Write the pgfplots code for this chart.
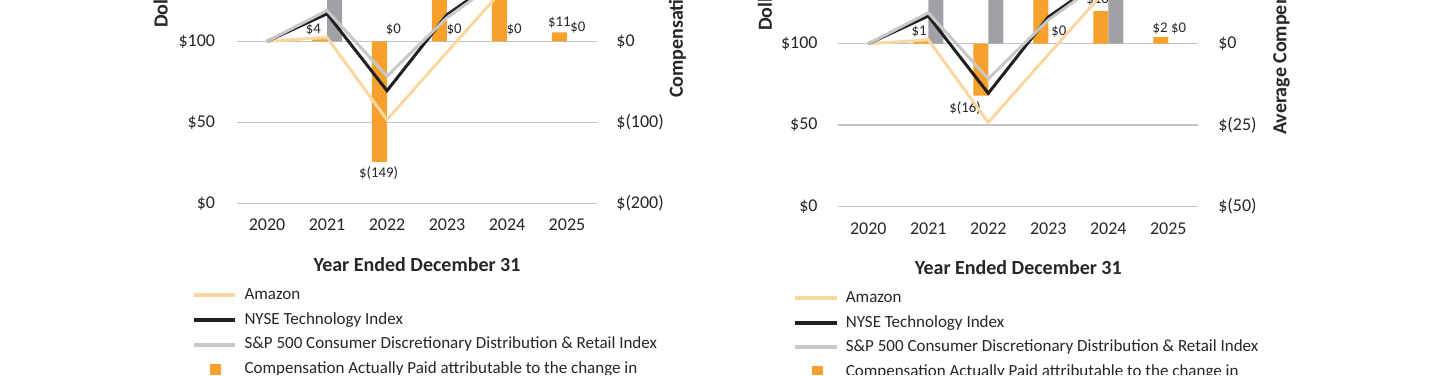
\documentclass[border=0pt]{standalone}
\usepackage{pgfplots}
\pgfplotsset{compat=1.18}
\usepackage{fontspec}
\setmainfont{Carlito}
\definecolor{barorange}{HTML}{F6A12B}
\definecolor{bargray}{HTML}{A0A1A4}
\definecolor{amzline}{HTML}{FAD7A1}
\definecolor{nyseline}{HTML}{231F20}
\definecolor{spline}{HTML}{C8C8C8}
\definecolor{gridc}{HTML}{C4C4C4}
\definecolor{txt}{HTML}{262626}
\tikzset{
  ticklab/.style={font=\fontsize{9}{10}\selectfont, text=txt, inner sep=0pt},
  dlab/.style={font=\fontsize{7.4}{8}\selectfont, text=txt, inner sep=0pt},
  ttl/.style={font=\bfseries\fontsize{10}{12}\selectfont, text=txt, inner sep=0pt},
}
\pgfplotsset{
  panel/.style={scale only axis, width=180pt, xmin=-0.5, xmax=5.5, enlargelimits=false,
    axis line style={draw=none}, tick style={draw=none}, major tick length=0pt},
  lineplot/.style={line width=1.5pt, line join=miter},
  leg/.style={legend style={draw=none, fill=none, inner sep=0pt, outer sep=0pt,
      row sep=4.3pt, column sep=3.6pt, font=\fontsize{8.5}{10}\selectfont, text=txt,
      nodes={inner sep=0pt, text height=6.2pt, text depth=1.8pt}},
    legend cell align=left,
    legend image code/.code={\draw[##1, line width=2pt] (0pt,0pt) -- (20.8pt,0pt);}},
  sqimg/.style={legend image code/.code={\fill[barorange, draw=none] (8.25pt,-2.75pt) rectangle (13.75pt,2.75pt); \path[draw=none, fill=none] (0pt,0pt) -- (20.8pt,0pt);}},
}
\begin{document}
\begin{tikzpicture}
\useasboundingbox (0,0) rectangle (720pt,187.5pt);
\clip (0,0) rectangle (720pt,187.5pt);
% ================= LEFT PANEL =================
\begin{axis}[panel, clip=false, at={(118.5pt,85.85pt)}, anchor=south west, height=162pt, ymin=0, ymax=200,
  ytick={0,50,100,150,200}, yticklabels={\$0,\$50,\$100,\$150,\$200},
  ymajorgrids, grid style={line width=0.6pt, draw=gridc},
  xtick={0,1,2,3,4,5}, xticklabels={2020,2021,2022,2023,2024,2025},
  yticklabel style={ticklab, anchor=east, xshift=-10.8pt},
  xticklabel style={ticklab, anchor=center, yshift=-10.85pt},
  xlabel={Year Ended December 31},
  xlabel style={at={(axis description cs:0.5,-0.1904)}, anchor=center, ttl}]
\addplot[draw=none] coordinates {(0,0)};
\node[ttl, rotate=90, anchor=west] at (rel axis cs:-0.212,0.540) {Dollars};
\end{axis}
\begin{axis}[panel, clip=false, at={(118.5pt,85.85pt)}, anchor=south west, height=162pt, ymin=-200, ymax=200,
  ytick={-200,-100,0}, yticklabels={\$(200),\$(100),\$0}, yticklabel pos=right,
  yticklabel style={ticklab, anchor=west, xshift=9.5pt}, xtick=\empty]
\addplot[ybar, bar width=7.5pt, bar shift=-3.75pt, fill=barorange, draw=none]
  coordinates {(1,4) (2,-149) (3,120) (4,90) (5,11)};
\addplot[ybar, bar width=7.5pt, bar shift=3.75pt, fill=bargray, draw=none]
  coordinates {(1,150) (2,0) (3,0) (4,0) (5,0)};
\node[dlab] at (axis cs:0.772,14) {\$4};
\node[dlab] at (axis cs:1.862,-162.6) {\$(149)};
\node[dlab] at (axis cs:2.105,14.8) {\$0};
\node[dlab] at (axis cs:3.117,14) {\$0};
\node[dlab] at (axis cs:4.117,14) {\$0};
\node[dlab] at (axis cs:4.872,22.6) {\$11};
\node[dlab] at (axis cs:5.183,16.4) {\$0};
\node[ttl, rotate=90, anchor=west] at (rel axis cs:1.2236,0.3241) {Compensation Actually Paid};
\end{axis}
\begin{axis}[panel, at={(118.5pt,85.85pt)}, anchor=south west, height=162pt, ymin=0, ymax=200,
  hide axis, leg, legend style={at={(-0.1258,-0.2593)}, anchor=north west}]
\addplot[lineplot, amzline] coordinates {(0,100) (1,102.4) (2,51.6) (3,93.3) (4,134.7) (5,142)};
\addlegendentry{Amazon}
\addplot[lineplot, nyseline] coordinates {(0,100) (1,117) (2,69.5) (3,116.4) (4,142) (5,155)};
\addlegendentry{NYSE Technology Index}
\addplot[lineplot, spline] coordinates {(0,100) (1,119) (2,78.5) (3,114.6) (4,141) (5,150)};
\addlegendentry{S\&P 500 Consumer Discretionary Distribution \& Retail Index}
\addlegendimage{sqimg}
\addlegendentry{Compensation Actually Paid attributable to the change in}
\end{axis}
% ================= RIGHT PANEL =================
\begin{axis}[panel, clip=false, at={(419.15pt,84.35pt)}, anchor=south west, height=162.6pt, ymin=0, ymax=200,
  ytick={0,50,100,150,200}, yticklabels={\$0,\$50,\$100,\$150,\$200},
  ymajorgrids, grid style={line width=0.6pt, draw=gridc},
  xtick={0,1,2,3,4,5}, xticklabels={2020,2021,2022,2023,2024,2025},
  yticklabel style={ticklab, anchor=east, xshift=-10.2pt},
  xticklabel style={ticklab, anchor=center, yshift=-11pt},
  xlabel={Year Ended December 31},
  xlabel style={at={(axis description cs:0.5,-0.1897)}, anchor=center, ttl}]
\addplot[draw=none] coordinates {(0,0)};
\node[ttl, rotate=90, anchor=west] at (rel axis cs:-0.2036,0.539) {Dollars};
\end{axis}
\begin{axis}[panel, clip=false, at={(419.15pt,84.35pt)}, anchor=south west, height=162.6pt, ymin=-50, ymax=50,
  ytick={-50,-25,0}, yticklabels={\$(50),\$(25),\$0}, yticklabel pos=right,
  yticklabel style={ticklab, anchor=west, xshift=9.8pt}, xtick=\empty]
\addplot[ybar, bar width=7.5pt, bar shift=-3.75pt, fill=barorange, draw=none]
  coordinates {(1,1) (2,-16) (3,30) (4,10) (5,2)};
\addplot[ybar, bar width=7.5pt, bar shift=3.75pt, fill=bargray, draw=none]
  coordinates {(1,30) (2,30) (3,0) (4,30) (5,0)};
\node[dlab] at (axis cs:0.845,3.6) {\$1};
\node[dlab] at (axis cs:1.612,-19.8) {\$(16)};
\node[dlab] at (axis cs:3.178,3.6) {\$0};
\node[dlab] at (axis cs:3.82,13.7) {\$10};
\node[dlab] at (axis cs:4.862,4.8) {\$2};
\node[dlab] at (axis cs:5.173,4.8) {\$0};
\node[ttl, rotate=90, anchor=west] at (rel axis cs:1.2297,0.219) {Average Compensation Actually Paid};
\end{axis}
\begin{axis}[panel, at={(419.15pt,84.35pt)}, anchor=south west, height=162.6pt, ymin=0, ymax=200,
  hide axis, leg, legend style={at={(-0.1258,-0.2574)}, anchor=north west}]
\addplot[lineplot, amzline] coordinates {(0,100) (1,102.4) (2,51.6) (3,93.3) (4,134.7) (5,142)};
\addlegendentry{Amazon}
\addplot[lineplot, nyseline] coordinates {(0,100) (1,117) (2,69.5) (3,116.4) (4,142) (5,155)};
\addlegendentry{NYSE Technology Index}
\addplot[lineplot, spline] coordinates {(0,100) (1,119) (2,78.5) (3,114.6) (4,141) (5,150)};
\addlegendentry{S\&P 500 Consumer Discretionary Distribution \& Retail Index}
\addlegendimage{sqimg}
\addlegendentry{Compensation Actually Paid attributable to the change in}
\end{axis}
\end{tikzpicture}
\end{document}
